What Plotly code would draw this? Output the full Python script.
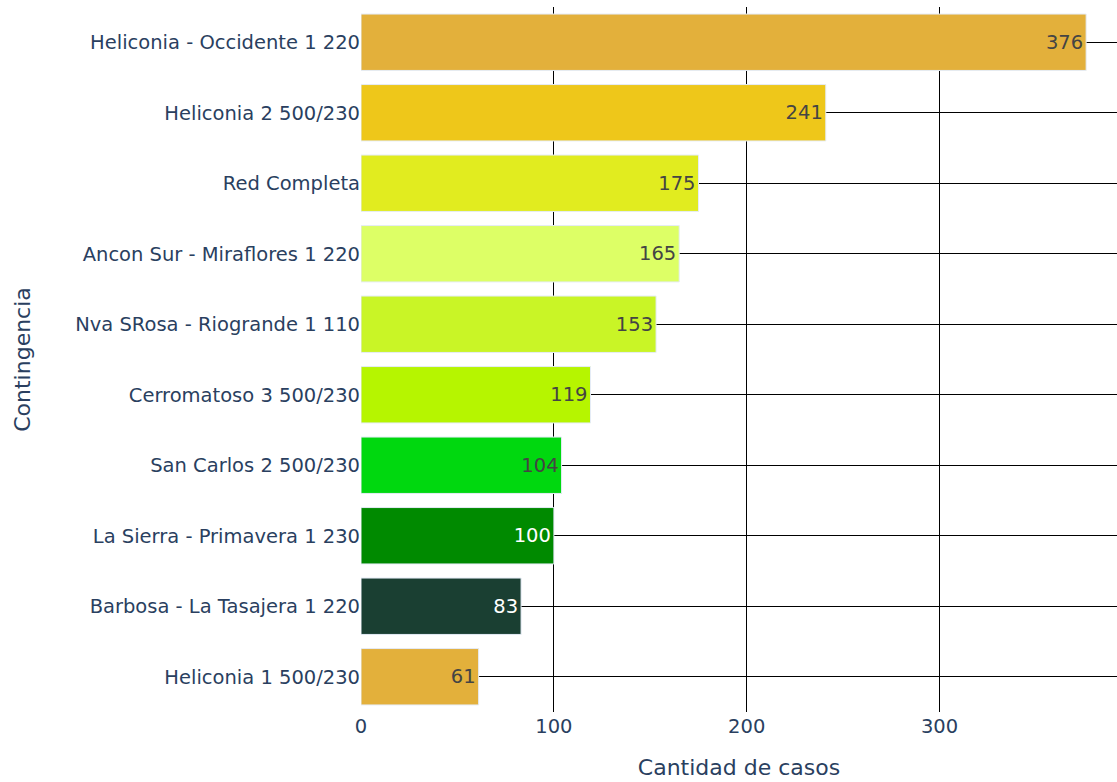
import plotly.graph_objects as go

# contingencias, ordenadas de mayor a menor
contingencias = [
    'Heliconia - Occidente 1 220',
    'Heliconia 2 500/230',
    'Red Completa',
    'Ancon Sur - Miraflores 1 220',
    'Nva SRosa - Riogrande 1 110',
    'Cerromatoso 3 500/230',
    'San Carlos 2 500/230',
    'La Sierra - Primavera 1 230',
    'Barbosa - La Tasajera 1 220',
    'Heliconia 1 500/230',
]
casos = [376, 241, 175, 165, 153, 119, 104, 100, 83, 61]
colores = ['#e3b03b', '#eec71a', '#e1ec1f', '#ddff66', '#c9f526',
           '#b6f500', '#00d80f', '#008a00', '#1a3f32', '#e3b03b']

fuente = 'Verdana, DejaVu Sans, sans-serif'

trace = go.Bar(
    y=contingencias,
    x=casos,
    orientation='h',
    text=casos,
    textposition='inside',
    insidetextanchor='end',
    textfont=dict(size=19.5, family=fuente),
    marker=dict(color=colores, line=dict(color='#e5ecf6', width=1)),
)

fig = go.Figure(data=[trace])
fig.update_layout(
    width=1117, height=782,
    margin=dict(l=361, r=0, t=7, b=70),
    plot_bgcolor='white',
    paper_bgcolor='white',
    font=dict(family=fuente, size=19.5, color='#2a3f5f'),
    bargap=0.2,
    showlegend=False,
)
fig.update_xaxes(
    range=[0, 392],
    dtick=100,
    showgrid=True, gridcolor='black', gridwidth=1,
    zeroline=False,
    title=dict(text='Cantidad de casos', font=dict(size=22), standoff=23),
    ticks='', automargin=False,
)
fig.update_yaxes(
    autorange='reversed',
    showgrid=True, gridcolor='black', gridwidth=1,
    title=dict(text='Contingencia', font=dict(size=22), standoff=38),
    ticks='', automargin=False,
)

# quita el margen del body para que la figura quede en (0, 0)
fig.write_html('out.html', config={'displayModeBar': False},
               post_script="document.body.style.margin='0';")
